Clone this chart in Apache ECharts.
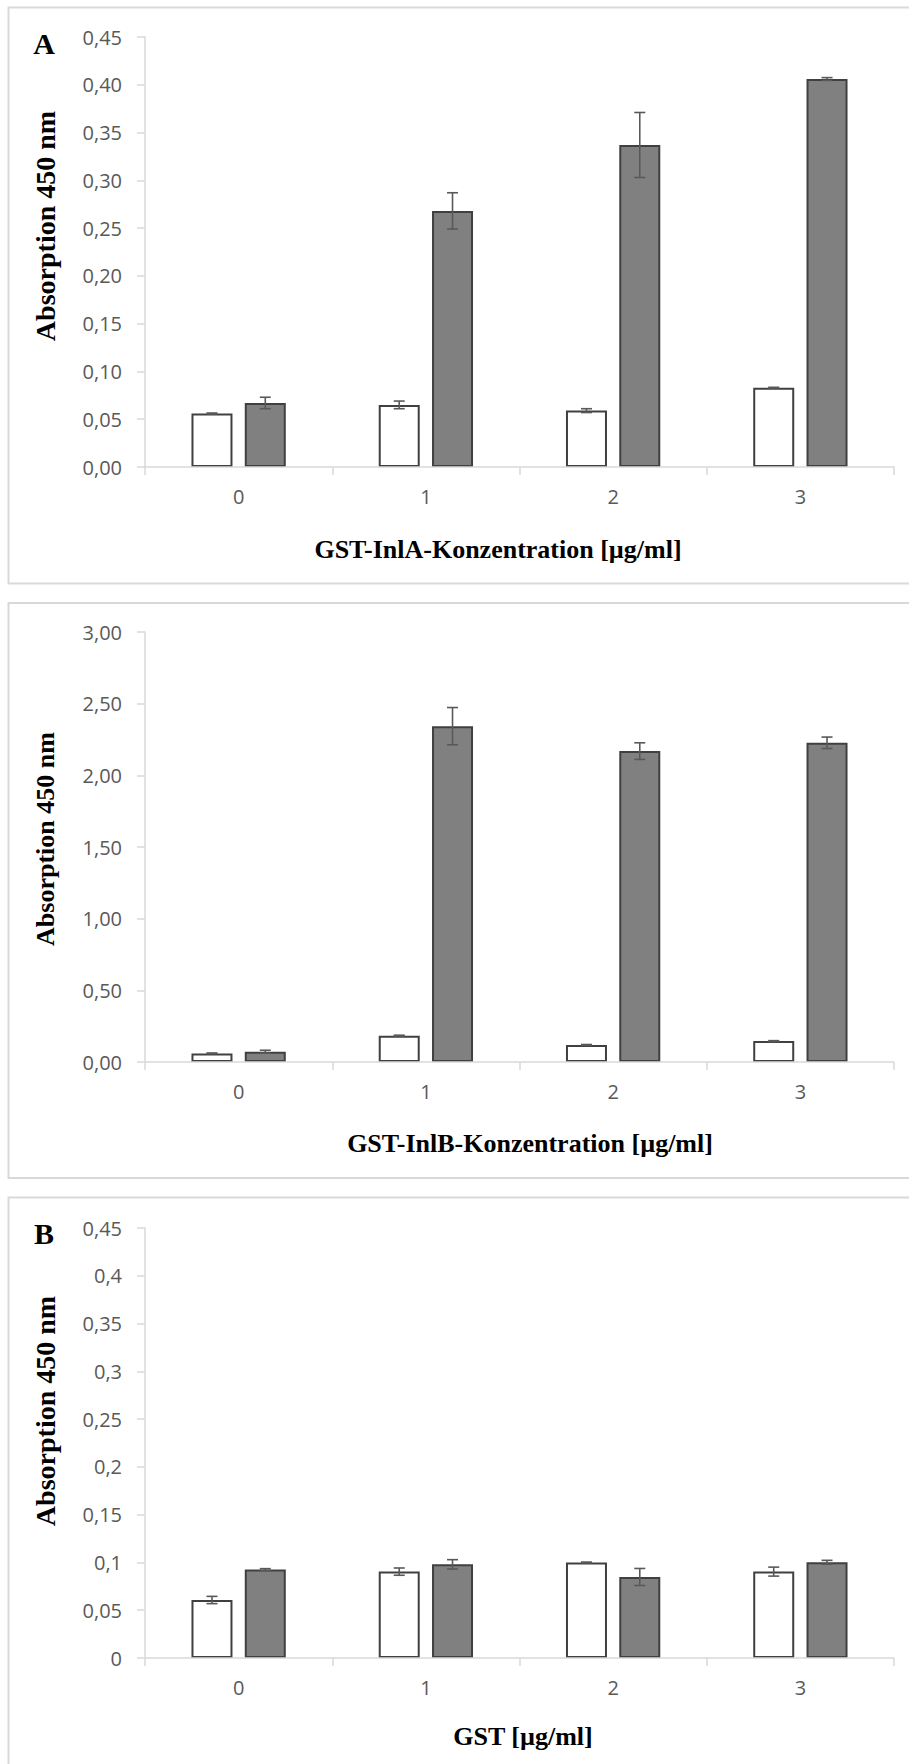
<!DOCTYPE html>
<html>
<head>
<meta charset="utf-8">
<title>Absorption 450 nm</title>
<script src="https://cdn.jsdelivr.net/npm/echarts@6/dist/echarts.min.js"></script>
<style>
  html, body { margin: 0; padding: 0; background: #ffffff; }
  #chart { width: 909px; height: 1764px; }
</style>
</head>
<body>
<div id="chart"></div>
<script>
// Concentration steps shared by all three panels
const categories = ['0', '1', '2', '3'];

// Panel A: GST-InlA
const inlaControl = [0.056, 0.065, 0.059, 0.083];
const inlaControlErr = [0.0005, 0.004, 0.002, 0.0004];
const inlaSample = [0.067, 0.268, 0.337, 0.406];
const inlaSampleErr = [0.006, 0.019, 0.034, 0.0015];
const inlaTicks = ['0,00', '0,05', '0,10', '0,15', '0,20', '0,25', '0,30', '0,35', '0,40', '0,45'];

// Panel 2: GST-InlB
const inlbControl = [0.060, 0.184, 0.119, 0.146];
const inlbControlErr = [0.003, 0.003, 0.003, 0.003];
const inlbSample = [0.072, 2.343, 2.169, 2.227];
const inlbSampleErr = [0.010, 0.130, 0.058, 0.040];
const inlbTicks = ['0,00', '0,50', '1,00', '1,50', '2,00', '2,50', '3,00'];

// Panel B: GST only
const gstControl = [0.0607, 0.0904, 0.1000, 0.0904];
const gstControlErr = [0.0038, 0.0038, 0.0004, 0.0047];
const gstSample = [0.0925, 0.0980, 0.0848, 0.1002];
const gstSampleErr = [0.0010, 0.0049, 0.0089, 0.0020];
const gstTicks = ['0', '0,05', '0,1', '0,15', '0,2', '0,25', '0,3', '0,35', '0,4', '0,45'];

const BAR_WIDTH = 41;
const BAR_GAP = 0.3;
const BAR_OFFSET = BAR_WIDTH * (1 + BAR_GAP) / 2;

const AXIS_GREY = '#d9d9d9';
const LABEL_GREY = '#595959';
const OUTLINE = '#404040';
const SANS = '"Open Sans", "Noto Sans", sans-serif';
const SERIF = '"Liberation Serif", "DejaVu Serif", serif';

const panels = [
  { top: 37, max: 0.45, interval: 0.05, ticks: inlaTicks,
    control: inlaControl, controlErr: inlaControlErr, sample: inlaSample, sampleErr: inlaSampleErr },
  { top: 632, max: 3.0, interval: 0.5, ticks: inlbTicks,
    control: inlbControl, controlErr: inlbControlErr, sample: inlbSample, sampleErr: inlbSampleErr },
  { top: 1228, max: 0.45, interval: 0.05, ticks: gstTicks,
    control: gstControl, controlErr: gstControlErr, sample: gstSample, sampleErr: gstSampleErr }
];

function errorBars(values, errs, idx, offset) {
  return {
    type: 'custom',
    xAxisIndex: idx,
    yAxisIndex: idx,
    z: 4,
    data: values.map((v, i) => [i, v, errs[i]]),
    encode: { x: 0, y: 1 },
    renderItem: function (params, api) {
      const c = api.value(0), v = api.value(1), e = api.value(2);
      const hi = api.coord([c, v + e]);
      const lo = api.coord([c, v - e]);
      const x = hi[0] + offset;
      const cap = 5.5;
      const style = { stroke: LABEL_GREY, lineWidth: 1.6, fill: null };
      return {
        type: 'group',
        children: [
          { type: 'line', shape: { x1: x, y1: hi[1], x2: x, y2: lo[1] }, style: style },
          { type: 'line', shape: { x1: x - cap, y1: hi[1], x2: x + cap, y2: hi[1] }, style: style },
          { type: 'line', shape: { x1: x - cap, y1: lo[1], x2: x + cap, y2: lo[1] }, style: style }
        ]
      };
    }
  };
}

const grids = [], xAxes = [], yAxes = [], series = [];
panels.forEach((p, idx) => {
  grids.push({ left: 145, top: p.top, width: 749, height: 430 });
  xAxes.push({
    type: 'category',
    gridIndex: idx,
    data: categories,
    z: 5,
    axisLine: { lineStyle: { color: AXIS_GREY, width: 1.5 } },
    axisTick: { show: true, length: 8, lineStyle: { color: AXIS_GREY, width: 1.5 } },
    axisLabel: { color: LABEL_GREY, fontFamily: SANS, fontSize: 20, margin: 19 }
  });
  yAxes.push({
    type: 'value',
    gridIndex: idx,
    min: 0,
    max: p.max,
    interval: p.interval,
    axisLine: { show: true, lineStyle: { color: AXIS_GREY, width: 1.5 } },
    axisTick: { show: true, length: 8, lineStyle: { color: AXIS_GREY, width: 1.5 } },
    splitLine: { show: false },
    axisLabel: {
      color: LABEL_GREY, fontFamily: SANS, fontSize: 20, margin: 23,
      formatter: (v) => p.ticks[Math.round(v / p.interval)]
    }
  });
  series.push({
    type: 'bar', xAxisIndex: idx, yAxisIndex: idx,
    data: p.control, barWidth: BAR_WIDTH, barGap: (BAR_GAP * 100) + '%',
    itemStyle: { color: '#ffffff', borderColor: OUTLINE, borderWidth: 2 }
  });
  series.push({
    type: 'bar', xAxisIndex: idx, yAxisIndex: idx,
    data: p.sample, barWidth: BAR_WIDTH, barGap: (BAR_GAP * 100) + '%',
    itemStyle: { color: '#808080', borderColor: OUTLINE, borderWidth: 2 }
  });
  series.push(errorBars(p.control, p.controlErr, idx, -BAR_OFFSET));
  series.push(errorBars(p.sample, p.sampleErr, idx, BAR_OFFSET));
});

function frame(y1, y2) {
  return { type: 'rect', z: -10, shape: { x: 8.5, y: y1, width: 910, height: y2 - y1 },
           style: { fill: null, stroke: AXIS_GREY, lineWidth: 2 } };
}
function label(text, x, y, size, opts) {
  return Object.assign({
    type: 'text', x: x, y: y, z: 10,
    style: { text: text, font: 'bold ' + size + 'px ' + SERIF, fill: '#000000',
             textAlign: 'center', textVerticalAlign: 'middle', align: 'center', verticalAlign: 'middle' }
  }, opts || {});
}

const graphics = [
  frame(7.5, 583.5),
  frame(603, 1178),
  frame(1197.5, 1790),
  label('A', 44, 43, 30),
  label('B', 44, 1233, 30),
  label('Absorption 450 nm', 45, 226, 28, { rotation: Math.PI / 2 }),
  label('Absorption 450 nm', 45, 839, 26, { rotation: Math.PI / 2 }),
  label('Absorption 450 nm', 45, 1411, 28, { rotation: Math.PI / 2 }),
  label('GST-InlA-Konzentration [µg/ml]', 498, 549, 26),
  label('GST-InlB-Konzentration [µg/ml]', 530, 1143, 26),
  label('GST [µg/ml]', 523, 1736, 26)
];

const chart = echarts.init(document.getElementById('chart'), null, { renderer: 'svg' });
chart.setOption({
  animation: false,
  backgroundColor: '#ffffff',
  grid: grids,
  xAxis: xAxes,
  yAxis: yAxes,
  series: series,
  graphic: graphics
});
</script>
</body>
</html>
